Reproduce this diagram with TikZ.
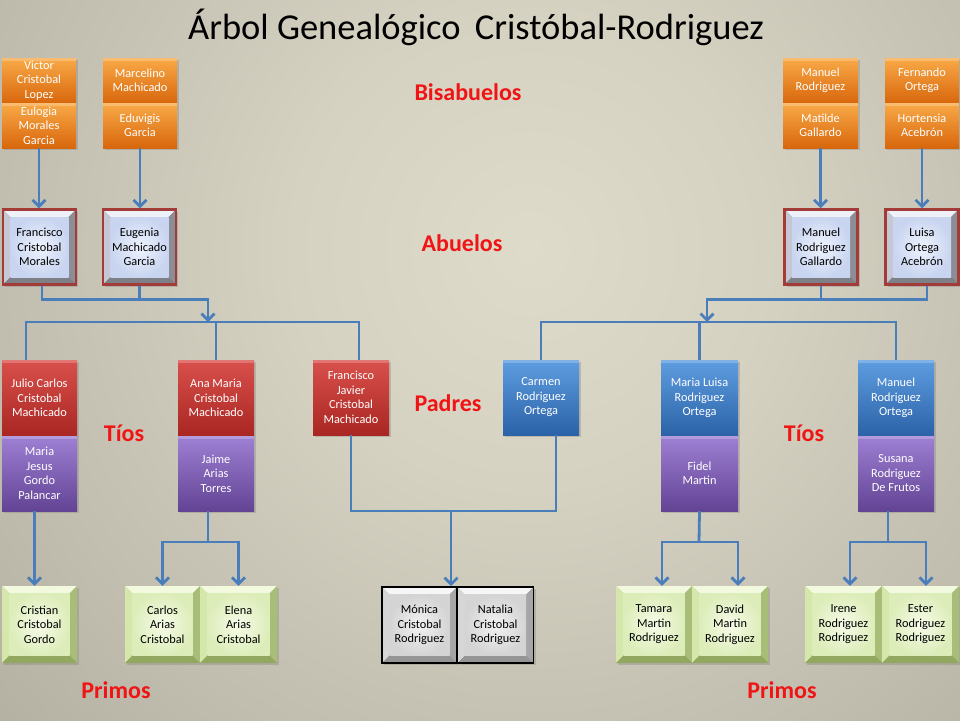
\documentclass[tikz,border=0pt]{standalone}
\usepackage{fontspec}
\setmainfont{Carlito}
\usetikzlibrary{shadows,arrows.meta,calc}
\definecolor{bgin}{HTML}{DEDBCB}
\definecolor{bgmid}{HTML}{D6D2C2}
\definecolor{bgout}{HTML}{7E7C72}
\definecolor{connc}{HTML}{4A7EBB}
\definecolor{orT}{HTML}{F9AA48}
\definecolor{orM}{HTML}{F08C1E}
\definecolor{orB}{HTML}{D8670C}
\definecolor{rdT}{HTML}{D9504C}
\definecolor{rdM}{HTML}{C8332F}
\definecolor{rdB}{HTML}{A92622}
\definecolor{blT}{HTML}{5E9DE0}
\definecolor{blM}{HTML}{3B7DC9}
\definecolor{blB}{HTML}{2B62A8}
\definecolor{puT}{HTML}{9E80D4}
\definecolor{puM}{HTML}{8060B8}
\definecolor{puB}{HTML}{624394}
\definecolor{abBorder}{HTML}{A33B39}
\definecolor{lblred}{HTML}{F01414}
\definecolor{abTop}{HTML}{EEF1F8}
\definecolor{abLeft}{HTML}{C5C8D2}
\definecolor{abRight}{HTML}{8C8E96}
\definecolor{abBot}{HTML}{7E8088}
\definecolor{abIn}{HTML}{EEF3FE}
\definecolor{abOut}{HTML}{C9D5F0}
\definecolor{gnTop}{HTML}{F2F9DF}
\definecolor{gnLeft}{HTML}{D6E7AC}
\definecolor{gnRight}{HTML}{A8BE78}
\definecolor{gnBot}{HTML}{92A75F}
\definecolor{gnIn}{HTML}{F6FBE8}
\definecolor{gnOut}{HTML}{DDEDBA}
\definecolor{gyTop}{HTML}{F6F6F6}
\definecolor{gyLeft}{HTML}{D6D6D6}
\definecolor{gyRight}{HTML}{A6A6A6}
\definecolor{gyBot}{HTML}{959595}
\definecolor{gyIn}{HTML}{F2F2F2}
\definecolor{gyOut}{HTML}{D4D4D4}
\pgfdeclareradialshading{bgshade}{\pgfpoint{0bp}{0bp}}{color(0bp)=(bgin); color(8bp)=(bgmid); color(50bp)=(bgout)}
\tikzset{
  conn/.style={line width=2.8pt, draw=connc},
  arr/.style={-{Straight Barb[length=6.5pt,width=13pt]}},
  txt/.style={font=\fontsize{12.3}{14.5}\selectfont, align=center, inner sep=0pt},
  shad/.style={drop shadow={shadow xshift=2pt, shadow yshift=-2pt, opacity=0.35}},
  hilite/.style={path picture={\fill[white,opacity=0.22] (path picture bounding box.north west) rectangle ([yshift=-3pt]path picture bounding box.north east);}},
  cbox/.style={txt, text=white, shad, hilite},
  orangebox/.style={cbox, top color=orT, middle color=orM, bottom color=orB},
  redbox/.style={cbox, top color=rdT, middle color=rdM, bottom color=rdB},
  bluebox/.style={cbox, top color=blT, middle color=blM, bottom color=blB},
  purplebox/.style={cbox, top color=puT, middle color=puM, bottom color=puB},
  bevel/.style n args={6}{path picture={
    \path (path picture bounding box.north west) coordinate (bvA)
          (path picture bounding box.north east) coordinate (bvB)
          (path picture bounding box.south east) coordinate (bvC)
          (path picture bounding box.south west) coordinate (bvD);
    \path ([xshift=7.5pt,yshift=-7.5pt]bvA) coordinate (bva)
          ([xshift=-7.5pt,yshift=-7.5pt]bvB) coordinate (bvb)
          ([xshift=-7.5pt,yshift=7.5pt]bvC) coordinate (bvc)
          ([xshift=7.5pt,yshift=7.5pt]bvD) coordinate (bvd);
    \fill[#1] (bvA)--(bvB)--(bvb)--(bva)--cycle;
    \fill[#2] (bvA)--(bva)--(bvd)--(bvD)--cycle;
    \fill[#3] (bvB)--(bvC)--(bvc)--(bvb)--cycle;
    \fill[#4] (bvD)--(bvd)--(bvc)--(bvC)--cycle;
    \shade[inner color=#5, outer color=#6] (bva) rectangle (bvc);
  }},
  abbox/.style={txt, text=black, shad, draw=abBorder, line width=2.5pt, fill=abBot,
    minimum width=73pt, minimum height=75pt,
    bevel={abTop}{abLeft}{abRight}{abBot}{abIn}{abOut}},
  greenbox/.style={txt, text=black, shad, fill=gnBot,
    minimum width=75pt, minimum height=77pt,
    bevel={gnTop}{gnLeft}{gnRight}{gnBot}{gnIn}{gnOut}},
  graybox/.style={txt, text=black, shad, draw=black, line width=1.6pt, fill=gyBot,
    minimum width=75pt, minimum height=76pt,
    bevel={gyTop}{gyLeft}{gyRight}{gyBot}{gyIn}{gyOut}},
  lbl/.style={font=\fontsize{24}{28}\selectfont\bfseries, text=lblred, inner sep=0pt}
}
\begin{document}
\begin{tikzpicture}[x=1pt,y=-1pt]
\useasboundingbox (0,0) rectangle (960,720);
\begin{scope}
\clip (0,0) rectangle (960,720);
\shade[shading=bgshade] (530,250) circle (740);
\end{scope}

% title
\node[font=\fontsize{36.5}{42}\selectfont, text=black, inner sep=0pt] (title) at (476,27) {Árbol Genealógico\, Cristóbal-Rodriguez};

% labels
\node[lbl] (lbisa) at (468,92) {Bisabuelos};
\node[lbl] (labue) at (462,243) {Abuelos};
\node[lbl] (lpadr) at (448,403) {Padres};
\node[lbl] (ltiosL) at (124,433) {Tíos};
\node[lbl] (ltiosR) at (804,433) {Tíos};
\node[lbl] (lprimL) at (116,690) {Primos};
\node[lbl] (lprimR) at (782,690) {Primos};

% bisabuelos
\node[orangebox, minimum width=74pt, minimum height=45pt] (vic) at (39,80.5) {Victor\\Cristobal\\Lopez};
\node[orangebox, minimum width=74pt, minimum height=45pt] (eul) at (39,125.5) {Eulogia\\Morales\\Garcia};
\node[orangebox, minimum width=74pt, minimum height=45pt] (mar) at (140,80.5) {Marcelino\\Machicado};
\node[orangebox, minimum width=74pt, minimum height=45pt] (edu) at (140,125.5) {Eduvigis\\Garcia};
\node[orangebox, minimum width=75pt, minimum height=45pt] (man) at (820.5,80.5) {Manuel\\Rodriguez};
\node[orangebox, minimum width=75pt, minimum height=45pt] (mat) at (820.5,125.5) {Matilde\\Gallardo};
\node[orangebox, minimum width=74pt, minimum height=45pt] (fer) at (922,80.5) {Fernando\\Ortega};
\node[orangebox, minimum width=74pt, minimum height=45pt] (hor) at (922,125.5) {Hortensia\\Acebrón};

% abuelos
\node[abbox] (fco) at (39.5,247) {Francisco\\Cristobal\\Morales};
\node[abbox] (eug) at (139.5,247) {Eugenia\\Machicado\\Garcia};
\node[abbox] (mrg) at (821,247) {Manuel\\Rodriguez\\Gallardo};
\node[abbox] (lui) at (922,247) {Luisa\\Ortega\\Acebrón};

% padres / tios
\node[redbox, minimum width=75pt, minimum height=76pt] (jul) at (39.5,398) {Julio Carlos\\Cristobal\\Machicado};
\node[purplebox, minimum width=75pt, minimum height=75pt] (mjg) at (39.5,473.5) {Maria\\Jesus\\Gordo\\Palancar};
\node[redbox, minimum width=76pt, minimum height=76pt] (ana) at (216,398) {Ana Maria\\Cristobal\\Machicado};
\node[purplebox, minimum width=76pt, minimum height=75pt] (jai) at (216,473.5) {Jaime\\Arias\\Torres};
\node[redbox, minimum width=76pt, minimum height=75pt] (fjc) at (351,397.5) {Francisco\\Javier\\Cristobal\\Machicado};
\node[bluebox, minimum width=76pt, minimum height=75pt] (car) at (541,397.5) {Carmen\\Rodriguez\\Ortega};
\node[bluebox, minimum width=77pt, minimum height=76pt] (mlr) at (699.5,398) {Maria Luisa\\Rodriguez\\Ortega};
\node[purplebox, minimum width=77pt, minimum height=75pt] (fid) at (699.5,473.5) {Fidel\\Martin};
\node[bluebox, minimum width=76pt, minimum height=76pt] (mro) at (896,398) {Manuel\\Rodriguez\\Ortega};
\node[purplebox, minimum width=76pt, minimum height=75pt] (sus) at (896,473.5) {Susana\\Rodriguez\\De Frutos};

% primos
\node[greenbox] (cri) at (39.5,624.5) {Cristian\\Cristobal\\Gordo};
\node[greenbox] (carl) at (162.5,624.5) {Carlos\\Arias\\Cristobal};
\node[greenbox, minimum width=77pt] (ele) at (238.5,624.5) {Elena\\Arias\\Cristobal};
\node[graybox] (mon) at (419.5,625) {Mónica\\Cristobal\\Rodriguez};
\node[graybox, minimum width=76pt] (nat) at (495.5,625) {Natalia\\Cristobal\\Rodriguez};
\node[greenbox, minimum width=76pt] (tam) at (654,624.5) {Tamara\\Martin\\Rodriguez};
\node[greenbox, minimum width=76pt] (dav) at (730,624.5) {David\\Martin\\Rodriguez};
\node[greenbox, minimum width=77pt] (ire) at (843.5,624.5) {Irene\\Rodriguez\\Rodriguez};
\node[greenbox, minimum width=77pt] (est) at (920.5,624.5) {Ester\\Rodriguez\\Rodriguez};

% junction coordinates
\coordinate (jL) at (208,322);
\coordinate (jR) at (707,322);
\coordinate (kA) at (208,542);
\coordinate (kC) at (451,511);
\coordinate (kD) at (699,542);
\coordinate (kE) at (888,542);

% bisabuelos -> abuelos
\draw[conn,arr] (eul.south) -- (eul.south |- fco.north);
\draw[conn,arr] (edu.south) -- (edu.south |- eug.north);
\draw[conn,arr] (mat.south) -- (mat.south |- mrg.north);
\draw[conn,arr] (hor.south) -- (hor.south |- lui.north);

% abuelos -> padres
\draw[conn,arr] ([xshift=2.5pt]fco.south) -- ++(0,14) -| (jL);
\draw[conn] (eug.south) -- ++(0,14);
\draw[conn] ([xshift=-13.5pt]jul.north) |- (jL) -| ([xshift=8pt]fjc.north);
\draw[conn] (jL -| ana.north) -- (ana.north);
\draw[conn,arr] ([xshift=5pt]lui.south) -- ++(0,14) -| (jR);
\draw[conn] (mrg.south) -- ++(0,14);
\draw[conn] (car.north) |- (jR) -| (mro.north);
\draw[conn] (jR -| mlr.north) -- (mlr.north);

% padres -> primos
\draw[conn,arr] ([xshift=-5pt]mjg.south) -- ([xshift=-5pt]mjg.south |- cri.north);
\draw[conn] ([xshift=-8pt]jai.south) -- (kA);
\draw[conn,arr] (kA) -| (carl.north);
\draw[conn,arr] (kA) -| (ele.north);
\draw[conn] (fjc.south) |- (kC);
\draw[conn] ([xshift=15pt]car.south) |- (kC);
\draw[conn,arr] (kC) -- (kC |- mon.north);
\draw[conn] (fid.south) -- (kD);
\draw[conn,arr] (kD) -| ([xshift=8pt]tam.north);
\draw[conn,arr] (kD) -| ([xshift=8pt]dav.north);
\draw[conn] ([xshift=-8pt]sus.south) -- (kE);
\draw[conn,arr] (kE) -| ([xshift=6.5pt]ire.north);
\draw[conn,arr] (kE) -| ([xshift=5.5pt]est.north);
\end{tikzpicture}
\end{document}
